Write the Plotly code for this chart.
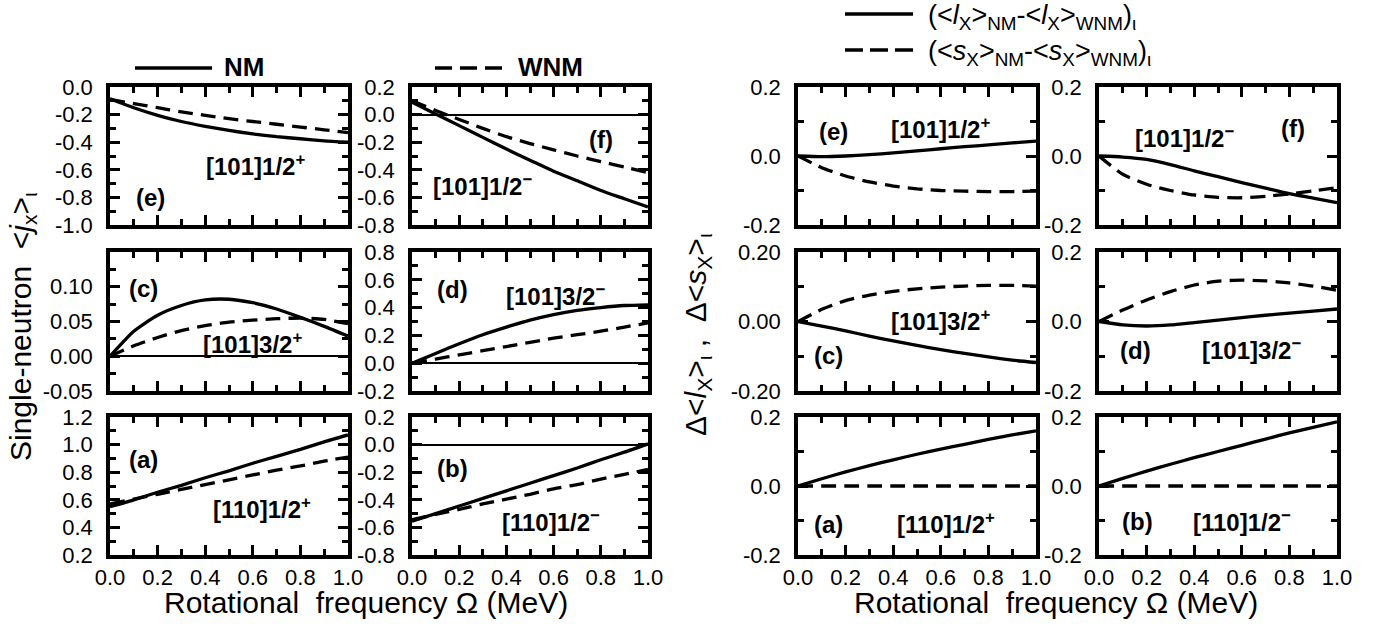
import plotly.graph_objects as go

# Rotational frequency grid (MeV)
omega = [0.0, 0.1, 0.2, 0.3, 0.4, 0.5, 0.6, 0.7, 0.8, 0.9, 1.0]

# Single-neutron <j_x> : NM (solid) and WNM (dashed)
jx_nm_e = [-0.085, -0.15, -0.205, -0.25, -0.285, -0.315, -0.34, -0.36, -0.375, -0.39, -0.40]
jx_wnm_e = [-0.09, -0.12, -0.15, -0.18, -0.205, -0.23, -0.25, -0.27, -0.29, -0.31, -0.33]
jx_nm_f = [0.09, 0.005, -0.08, -0.165, -0.25, -0.33, -0.41, -0.48, -0.55, -0.61, -0.67]
jx_wnm_f = [0.10, 0.03, -0.035, -0.10, -0.16, -0.21, -0.255, -0.30, -0.34, -0.38, -0.42]
jx_nm_c = [0.0, 0.036, 0.059, 0.073, 0.081, 0.082, 0.077, 0.068, 0.056, 0.043, 0.029]
jx_wnm_c = [0.0, 0.015, 0.027, 0.037, 0.044, 0.049, 0.052, 0.054, 0.055, 0.053, 0.047]
jx_nm_d = [0.0, 0.07, 0.14, 0.205, 0.26, 0.31, 0.35, 0.38, 0.40, 0.415, 0.42]
jx_wnm_d = [0.0, 0.03, 0.06, 0.09, 0.12, 0.15, 0.18, 0.205, 0.23, 0.26, 0.29]
jx_nm_a = [0.55, 0.60, 0.655, 0.705, 0.76, 0.81, 0.865, 0.915, 0.965, 1.02, 1.07]
jx_wnm_a = [0.57, 0.605, 0.64, 0.675, 0.71, 0.745, 0.78, 0.815, 0.845, 0.88, 0.91]
jx_nm_b = [-0.555, -0.50, -0.445, -0.39, -0.335, -0.28, -0.225, -0.17, -0.11, -0.055, 0.005]
jx_wnm_b = [-0.545, -0.505, -0.47, -0.43, -0.395, -0.36, -0.32, -0.29, -0.25, -0.215, -0.18]

# Differences NM - WNM of <l_x> (solid) and <s_x> (dashed)
dl_e = [0.0, -0.002, 0.0, 0.004, 0.009, 0.015, 0.021, 0.027, 0.032, 0.038, 0.043]
ds_e = [0.0, -0.034, -0.058, -0.075, -0.087, -0.095, -0.10, -0.102, -0.103, -0.103, -0.102]
dl_f = [0.0, -0.003, -0.01, -0.025, -0.043, -0.06, -0.077, -0.093, -0.109, -0.122, -0.135]
ds_f = [0.0, -0.053, -0.082, -0.10, -0.113, -0.12, -0.121, -0.117, -0.11, -0.101, -0.092]
dl_c = [0.0, -0.013, -0.027, -0.042, -0.056, -0.069, -0.081, -0.092, -0.102, -0.111, -0.118]
ds_c = [0.0, 0.035, 0.06, 0.076, 0.087, 0.094, 0.099, 0.102, 0.104, 0.104, 0.102]
dl_d = [0.0, -0.01, -0.013, -0.01, -0.003, 0.004, 0.011, 0.018, 0.024, 0.03, 0.036]
ds_d = [0.0, 0.033, 0.062, 0.086, 0.105, 0.116, 0.119, 0.117, 0.111, 0.102, 0.09]
dl_a = [0.0, 0.021, 0.041, 0.059, 0.076, 0.092, 0.107, 0.121, 0.135, 0.148, 0.16]
ds_a = [0.0, 0.0, 0.0, 0.0, 0.0, 0.0, 0.0, 0.0, 0.0, 0.0, 0.0]
dl_b = [0.0, 0.022, 0.043, 0.063, 0.082, 0.10, 0.118, 0.136, 0.154, 0.17, 0.186]
ds_b = [0.0, 0.0, 0.0, 0.0, 0.0, 0.0, 0.0, 0.0, 0.0, 0.0, 0.0]

# Tick values and labels
x_ticks = [0.0, 0.2, 0.4, 0.6, 0.8, 1.0]
x_ticklabels = ["0.0", "0.2", "0.4", "0.6", "0.8", "1.0"]
yt_e = [0.0, -0.2, -0.4, -0.6, -0.8, -1.0]
yl_e = ["0.0", "-0.2", "-0.4", "-0.6", "-0.8", "-1.0"]
yt_f = [0.2, 0.0, -0.2, -0.4, -0.6, -0.8]
yl_f = ["0.2", "0.0", "-0.2", "-0.4", "-0.6", "-0.8"]
yt_c = [0.15, 0.10, 0.05, 0.0, -0.05]
yl_c = ["", "0.10", "0.05", "0.00", "-0.05"]
yt_d = [0.8, 0.6, 0.4, 0.2, 0.0, -0.2]
yl_d = ["0.8", "0.6", "0.4", "0.2", "0.0", "-0.2"]
yt_a = [1.2, 1.0, 0.8, 0.6, 0.4, 0.2]
yl_a = ["1.2", "1.0", "0.8", "0.6", "0.4", "0.2"]
yt_r = [0.2, 0.0, -0.2]
yl_r = ["0.2", "0.0", "-0.2"]
yl_r2 = ["0.20", "0.00", "-0.20"]

W, H = 1385, 624
FONT = "Liberation Sans, Arial, sans-serif"

# pixel frames of the plotting areas
COLS = {"L1": (110, 348), "L2": (412, 648), "R1": (798, 1036), "R2": (1099, 1337)}
ROWS = {"top": (87, 225), "mid": (252, 391), "bot": (417, 555)}

SUP_P = "<sup>+</sup>"
SUP_M = "<sup>\u2212</sup>"

panels = [
    dict(col="L1", row="top", y=(jx_nm_e, jx_wnm_e), rng=(-1.0, 0.0), tv=yt_e, tt=yl_e, minor=0.1, zero=False,
         labels=[("(e)", 0.17, -0.80), ("[101]1/2" + SUP_P, 0.61, -0.565)]),
    dict(col="L2", row="top", y=(jx_nm_f, jx_wnm_f), rng=(-0.8, 0.2), tv=yt_f, tt=yl_f, minor=0.1, zero=True,
         labels=[("(f)", 0.80, -0.18), ("[101]1/2" + SUP_M, 0.30, -0.51)]),
    dict(col="L1", row="mid", y=(jx_nm_c, jx_wnm_c), rng=(-0.05, 0.15), tv=yt_c, tt=yl_c, minor=0.025, zero=True,
         labels=[("(c)", 0.14, 0.098), ("[101]3/2" + SUP_P, 0.60, 0.019)]),
    dict(col="L2", row="mid", y=(jx_nm_d, jx_wnm_d), rng=(-0.2, 0.8), tv=yt_d, tt=yl_d, minor=0.1, zero=True,
         labels=[("(d)", 0.17, 0.527), ("[101]3/2" + SUP_M, 0.61, 0.49)]),
    dict(col="L1", row="bot", y=(jx_nm_a, jx_wnm_a), rng=(0.2, 1.2), tv=yt_a, tt=yl_a, minor=0.1, zero=False,
         labels=[("(a)", 0.14, 0.89), ("[110]1/2" + SUP_P, 0.64, 0.54)]),
    dict(col="L2", row="bot", y=(jx_nm_b, jx_wnm_b), rng=(-0.8, 0.2), tv=yt_f, tt=yl_f, minor=0.1, zero=True,
         labels=[("(b)", 0.17, -0.17), ("[110]1/2" + SUP_M, 0.59, -0.55)]),
    dict(col="R1", row="top", y=(dl_e, ds_e), rng=(-0.2, 0.2), tv=yt_r, tt=yl_r, minor=0.1, zero=False,
         labels=[("(e)", 0.15, 0.07), ("[101]1/2" + SUP_P, 0.60, 0.08)]),
    dict(col="R2", row="top", y=(dl_f, ds_f), rng=(-0.2, 0.2), tv=yt_r, tt=yl_r, minor=0.1, zero=False,
         labels=[("(f)", 0.815, 0.08), ("[101]1/2" + SUP_M, 0.36, 0.055)]),
    dict(col="R1", row="mid", y=(dl_c, ds_c), rng=(-0.2, 0.2), tv=yt_r, tt=yl_r2, minor=0.1, zero=False,
         labels=[("(c)", 0.13, -0.099), ("[101]3/2" + SUP_P, 0.60, 0.003)]),
    dict(col="R2", row="mid", y=(dl_d, ds_d), rng=(-0.2, 0.2), tv=yt_r, tt=yl_r, minor=0.1, zero=False,
         labels=[("(d)", 0.155, -0.084), ("[101]3/2" + SUP_M, 0.64, -0.078)]),
    dict(col="R1", row="bot", y=(dl_a, ds_a), rng=(-0.2, 0.2), tv=yt_r, tt=yl_r, minor=0.1, zero=False,
         labels=[("(a)", 0.13, -0.113), ("[110]1/2" + SUP_P, 0.62, -0.107)]),
    dict(col="R2", row="bot", y=(dl_b, ds_b), rng=(-0.2, 0.2), tv=yt_r, tt=yl_r, minor=0.1, zero=False,
         labels=[("(b)", 0.16, -0.104), ("[110]1/2" + SUP_M, 0.60, -0.10)]),
]

LINE_W = 3.3
DASH = "15px,8px"
FRAME_W = 3.5
TICK_W = 2.5
TICK_SIZE = 22

fig = go.Figure()
layout = dict(
    template="none",
    width=W, height=H, margin=dict(l=0, r=0, t=0, b=0, pad=0, autoexpand=False),
    paper_bgcolor="white", plot_bgcolor="white", showlegend=False,
    font=dict(family=FONT, size=TICK_SIZE, color="black"),
)
annotations = []

for i, p in enumerate(panels):
    n = i + 1
    xs = "" if n == 1 else str(n)
    x0, x1 = COLS[p["col"]]
    y0, y1 = ROWS[p["row"]]
    solid, dashed = p["y"]
    fig.add_trace(go.Scatter(x=omega, y=dashed, mode="lines", xaxis="x" + xs, yaxis="y" + xs,
                             line=dict(color="black", width=LINE_W, dash=DASH, shape="spline", smoothing=0.6),
                             hoverinfo="skip"))
    fig.add_trace(go.Scatter(x=omega, y=solid, mode="lines", xaxis="x" + xs, yaxis="y" + xs,
                             line=dict(color="black", width=LINE_W, shape="spline", smoothing=0.6),
                             hoverinfo="skip"))
    bottom = p["row"] == "bot"
    layout["xaxis" + xs] = dict(
        domain=[x0 / W, x1 / W], anchor="y" + xs, range=[0, 1], automargin=False,
        tickmode="array", tickvals=x_ticks, ticktext=x_ticklabels, showticklabels=bottom,
        ticks="inside", ticklen=10, tickwidth=TICK_W, tickcolor="black",
        minor=dict(tickmode="linear", tick0=0, dtick=0.1, ticks="inside", ticklen=6,
                   tickwidth=TICK_W, tickcolor="black"),
        showline=True, linewidth=FRAME_W, linecolor="black", mirror="ticks",
        showgrid=False, zeroline=False, ticklabelstandoff=0,
        tickfont=dict(family=FONT, size=TICK_SIZE, color="black"), fixedrange=True,
    )
    layout["yaxis" + xs] = dict(
        domain=[1 - y1 / H, 1 - y0 / H], anchor="x" + xs, range=list(p["rng"]), automargin=False,
        tickmode="array", tickvals=p["tv"], ticktext=p["tt"],
        ticks="inside", ticklen=10, tickwidth=TICK_W, tickcolor="black",
        minor=dict(tickmode="linear", tick0=0, dtick=p["minor"], ticks="inside", ticklen=6,
                   tickwidth=TICK_W, tickcolor="black"),
        showline=True, linewidth=FRAME_W, linecolor="black", mirror="ticks",
        showgrid=False, zeroline=p["zero"], zerolinecolor="black", zerolinewidth=1.6,
        ticklabelstandoff=9, tickfont=dict(family=FONT, size=TICK_SIZE, color="black"), fixedrange=True,
    )
    for text, lx, ly in p["labels"]:
        annotations.append(dict(text="<b>" + text + "</b>", x=lx, y=ly, xref="x" + xs, yref="y" + xs,
                                showarrow=False, xanchor="center", yanchor="middle",
                                font=dict(family=FONT, size=24, color="black")))

# axis titles
for cx in (366, 1056):
    annotations.append(dict(text="Rotational\u00a0\u00a0frequency \u03a9 (MeV)", x=cx / W, y=1 - 602 / H,
                            xref="paper", yref="paper", showarrow=False, xanchor="center", yanchor="middle",
                            font=dict(family=FONT, size=30, color="black")))
annotations.append(dict(text="Single-neutron\u00a0\u00a0&lt;<i>j</i><sub>x</sub>&gt;<sub>\u03b9</sub>",
                        x=22 / W, y=1 - 327 / H, xref="paper", yref="paper", showarrow=False,
                        textangle=-90, xanchor="center", yanchor="middle",
                        font=dict(family=FONT, size=30, color="black")))
annotations.append(dict(text="\u0394&lt;<i>l</i><sub>X</sub>&gt;<sub>\u03b9</sub>\u00a0,\u00a0\u00a0"
                             "\u0394&lt;<i>s</i><sub>X</sub>&gt;<sub>\u03b9</sub>",
                        x=697 / W, y=1 - 335 / H, xref="paper", yref="paper", showarrow=False,
                        textangle=-90, xanchor="center", yanchor="middle",
                        font=dict(family=FONT, size=30, color="black")))

# legend keys
shapes = []
def key(xa, xb, yp, dash):
    shapes.append(dict(type="line", xref="paper", yref="paper", x0=xa / W, x1=xb / W,
                       y0=1 - yp / H, y1=1 - yp / H,
                       line=dict(color="black", width=LINE_W + 0.2, dash=dash)))

key(135, 212, 68, "solid")
key(435, 504, 68, "17px,8px")
key(845, 913, 14, "solid")
key(845, 913, 50, "18px,7px")

annotations.append(dict(text="<b>NM</b>", x=222 / W, y=1 - 67 / H, xref="paper", yref="paper",
                        showarrow=False, xanchor="left", yanchor="middle",
                        font=dict(family=FONT, size=26, color="black")))
annotations.append(dict(text="<b>WNM</b>", x=516 / W, y=1 - 67 / H, xref="paper", yref="paper",
                        showarrow=False, xanchor="left", yanchor="middle",
                        font=dict(family=FONT, size=26, color="black")))
annotations.append(dict(text="(&lt;<i>l</i><sub>X</sub>&gt;<sub>NM</sub>-&lt;<i>l</i><sub>X</sub>&gt;<sub>WNM</sub>)<sub>\u03b9</sub>",
                        x=926 / W, y=1 - 17 / H, xref="paper", yref="paper",
                        showarrow=False, xanchor="left", yanchor="middle",
                        font=dict(family=FONT, size=27, color="black")))
annotations.append(dict(text="(&lt;<i>s</i><sub>X</sub>&gt;<sub>NM</sub>-&lt;<i>s</i><sub>X</sub>&gt;<sub>WNM</sub>)<sub>\u03b9</sub>",
                        x=926 / W, y=1 - 53 / H, xref="paper", yref="paper",
                        showarrow=False, xanchor="left", yanchor="middle",
                        font=dict(family=FONT, size=27, color="black")))

layout["annotations"] = annotations
layout["shapes"] = shapes
fig.update_layout(**layout)
fig.write_html("out.html")
